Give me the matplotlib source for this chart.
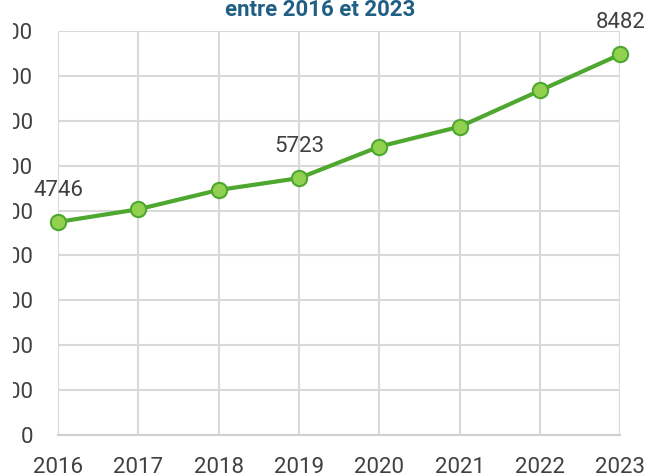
import matplotlib.pyplot as plt
from matplotlib.patches import Rectangle

# Données
annees = [2016, 2017, 2018, 2019, 2020, 2021, 2022, 2023]
valeurs = [4746, 5029, 5459, 5723, 6426, 6869, 7676, 8482]
ticks_y = [0, 1000, 2000, 3000, 4000, 5000, 6000, 7000, 8000, 9000]
annees_label = [2016, 2019, 2023]

plt.rcParams['font.family'] = ['Roboto', 'DejaVu Sans']

fig = plt.figure(figsize=(6.46, 4.73), dpi=100)
ax = fig.add_axes([0.0898, 0.0803, 0.8707, 0.8541])

ax.plot(annees, valeurs, color='#4EA72E', linewidth=3, marker='o', markersize=11,
        markerfacecolor='#92D050', markeredgecolor='#4EA72E', markeredgewidth=1.5,
        zorder=3, clip_on=False)

# étiquettes de données (seulement certaines années)
for a, v in zip(annees, valeurs):
    if a in annees_label:
        ax.annotate(str(v), (a, v), xytext=(0, 23), textcoords='offset points',
                    ha='center', va='center', fontsize=16, color='#404040')

ax.set_xlim(2016, 2023)
ax.set_ylim(0, 9000)
ax.set_xticks(annees)
ax.set_yticks(ticks_y)
ax.tick_params(axis='both', length=0, labelsize=16, labelcolor='#404040')
ax.tick_params(axis='x', pad=16)
ax.tick_params(axis='y', pad=18)

ax.grid(True, color='#D9D9D9', linewidth=1.5)
ax.set_axisbelow(True)
for s in ax.spines.values():
    s.set_visible(False)
ax.spines['bottom'].set_visible(True)
ax.spines['bottom'].set_color('#D0D0D0')
ax.spines['bottom'].set_linewidth(1.5)

# bord gauche recadré comme dans l'original
fig.add_artist(Rectangle((0, 0), 13 / 646, 1, transform=fig.transFigure,
                         facecolor='white', edgecolor='none', zorder=10))

fig.text(0.495, 0.966, 'entre 2016 et 2023', ha='center', va='baseline',
         fontsize=16, fontweight='bold', color='#1F5F84')

fig.savefig('out.png', dpi=100)
